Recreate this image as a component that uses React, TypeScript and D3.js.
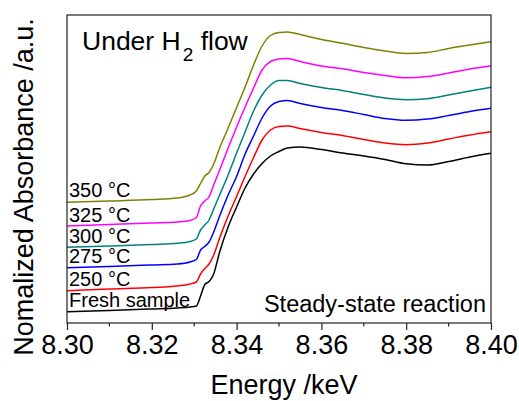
import { useEffect, useRef } from "react";
import * as d3 from "d3";

// energy grid (keV), shared by all spectra
const energy = [
  8.3, 8.31, 8.32, 8.326, 8.329, 8.3305, 8.3315, 8.3325, 8.3335, 8.3345, 8.336,
  8.338, 8.34, 8.342, 8.344, 8.346, 8.348, 8.35, 8.352, 8.355, 8.36, 8.365,
  8.37, 8.375, 8.38, 8.385, 8.39, 8.395, 8.4,
];

// normalized absorbance, stacked (a.u.)
const fresh = [
  0.113, 0.125, 0.14, 0.15, 0.16, 0.17, 0.27, 0.385, 0.415, 0.48, 0.71, 0.96,
  1.16, 1.35, 1.49, 1.595, 1.67, 1.715, 1.75, 1.76, 1.735, 1.7, 1.67, 1.635,
  1.592, 1.58, 1.615, 1.66, 1.697,
];
const t250 = [
  0.323, 0.34, 0.355, 0.37, 0.39, 0.41, 0.49, 0.545, 0.59, 0.67, 0.85, 1.07,
  1.265, 1.465, 1.655, 1.83, 1.93, 1.965, 1.97, 1.945, 1.905, 1.875, 1.835, 1.8,
  1.783, 1.8, 1.84, 1.88, 1.913,
];
const t275 = [
  0.553, 0.565, 0.58, 0.59, 0.61, 0.635, 0.73, 0.765, 0.81, 0.9, 1.07, 1.28,
  1.465, 1.69, 1.87, 2.05, 2.17, 2.215, 2.225, 2.195, 2.155, 2.125, 2.085,
  2.045, 2.027, 2.04, 2.075, 2.115, 2.147,
];
const t300 = [
  0.757, 0.77, 0.785, 0.797, 0.815, 0.84, 0.93, 0.98, 1.03, 1.13, 1.28, 1.48,
  1.7, 1.91, 2.12, 2.28, 2.38, 2.425, 2.425, 2.395, 2.355, 2.325, 2.285, 2.25,
  2.233, 2.243, 2.28, 2.32, 2.357,
];
const t325 = [
  0.97, 0.985, 1.0, 1.01, 1.025, 1.055, 1.17, 1.22, 1.26, 1.37, 1.53, 1.75,
  1.96, 2.16, 2.35, 2.53, 2.615, 2.64, 2.645, 2.615, 2.57, 2.542, 2.505, 2.475,
  2.452, 2.465, 2.5, 2.54, 2.57,
];
const t350 = [
  1.207, 1.22, 1.235, 1.25, 1.28, 1.32, 1.395, 1.47, 1.505, 1.58, 1.75, 1.95,
  2.155, 2.36, 2.58, 2.77, 2.875, 2.905, 2.91, 2.885, 2.835, 2.797, 2.755, 2.72,
  2.695, 2.705, 2.745, 2.78, 2.813,
];

const seriesNames = ["Fresh sample", "250 °C", "275 °C", "300 °C", "325 °C", "350 °C"];
const seriesValues = [fresh, t250, t275, t300, t325, t350];
const seriesColors = ["#000000", "#ff0000", "#0000ff", "#008080", "#ff00ff", "#808000"];
// label baselines (a.u.)
const labelY = [0.162, 0.373, 0.597, 0.803, 1.013, 1.263];

const xTicks = [8.3, 8.32, 8.34, 8.36, 8.38, 8.4];
const xMinorTicks = [8.31, 8.33, 8.35, 8.37, 8.39];

const W = 519;
const H = 401;
const margin = { top: 15, right: 28, bottom: 78, left: 67 };
const FONT = "'Liberation Sans', Arial, sans-serif";

export default function App() {
  const svgRef = useRef<SVGSVGElement>(null);

  useEffect(() => {
    const svg = d3.select(svgRef.current);
    svg.selectAll("*").remove();

    const innerW = W - margin.left - margin.right;
    const innerH = H - margin.top - margin.bottom;

    const x = d3.scaleLinear().domain([8.3, 8.4]).range([margin.left, margin.left + innerW]);
    const y = d3.scaleLinear().domain([0, 3.08]).range([margin.top + innerH, margin.top]);

    // spectra
    const line = d3
      .line<number>()
      .x((_, i) => x(energy[i]))
      .y((v) => y(v))
      .curve(d3.curveMonotoneX);

    svg
      .append("g")
      .selectAll("path")
      .data(seriesValues)
      .join("path")
      .attr("d", (d) => line(d))
      .attr("fill", "none")
      .attr("stroke", (_, i) => seriesColors[i])
      .attr("stroke-width", 1.5);

    // frame
    svg
      .append("rect")
      .attr("x", margin.left)
      .attr("y", margin.top)
      .attr("width", innerW)
      .attr("height", innerH)
      .attr("fill", "none")
      .attr("stroke", "#222")
      .attr("stroke-width", 1.2);

    // x axis
    const xAxis = d3
      .axisBottom(x)
      .tickValues(xTicks)
      .tickFormat(d3.format(".2f"))
      .tickSize(7)
      .tickPadding(5);

    const gx = svg
      .append("g")
      .attr("transform", `translate(0,${margin.top + innerH})`)
      .call(xAxis);
    gx.select(".domain").remove();
    gx.selectAll("line").attr("stroke", "#222").attr("stroke-width", 1.2);
    gx.selectAll("text")
      .attr("font-family", FONT)
      .attr("font-size", 27)
      .attr("fill", "#000");

    svg
      .append("g")
      .selectAll("line")
      .data(xMinorTicks)
      .join("line")
      .attr("x1", (d) => x(d))
      .attr("x2", (d) => x(d))
      .attr("y1", margin.top + innerH)
      .attr("y2", margin.top + innerH + 3.5)
      .attr("stroke", "#222")
      .attr("stroke-width", 1.2);

    // axis titles
    svg
      .append("text")
      .attr("x", 284)
      .attr("y", 394)
      .attr("text-anchor", "middle")
      .attr("font-family", FONT)
      .attr("font-size", 27)
      .text("Energy /keV");

    svg
      .append("text")
      .attr("transform", `translate(33,187) rotate(-90)`)
      .attr("text-anchor", "middle")
      .attr("font-family", FONT)
      .attr("font-size", 27)
      .text("Nomalized Absorbance /a.u.");

    // series labels
    svg
      .append("g")
      .selectAll("text")
      .data(seriesNames)
      .join("text")
      .attr("x", 69)
      .attr("y", (_, i) => y(labelY[i]))
      .attr("font-family", FONT)
      .attr("font-size", 20)
      .text((d) => d);

    // annotations
    const title = svg
      .append("text")
      .attr("x", 82)
      .attr("y", 50)
      .attr("font-family", FONT)
      .attr("font-size", 26.5);
    title.append("tspan").text("Under H");
    title.append("tspan").attr("font-size", 19).attr("dy", 10.5).attr("dx", 2).text("2");
    title.append("tspan").attr("dy", -10.5).text(" flow");

    svg
      .append("text")
      .attr("x", 486)
      .attr("y", 311.5)
      .attr("text-anchor", "end")
      .attr("font-family", FONT)
      .attr("font-size", 23.5)
      .text("Steady-state reaction");
  }, []);

  return (
    <svg
      ref={svgRef}
      width={W}
      height={H}
      style={{ position: "absolute", left: 0, top: 0, background: "#fff" }}
    />
  );
}
